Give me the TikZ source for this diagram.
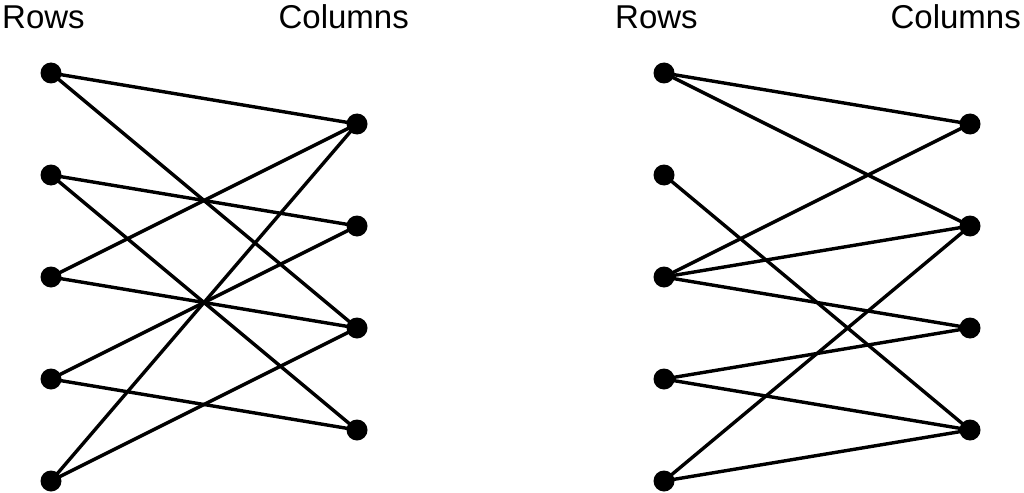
\documentclass[tikz,border=0pt]{standalone}
\usepackage{fontspec}
\setmainfont{Liberation Sans}
\begin{document}
\begin{tikzpicture}[x=1pt,y=-1pt,
  dot/.style={circle,fill=black,inner sep=0pt,minimum size=21pt},
  edge/.style={line width=3.4pt},
  lbl/.style={inner sep=0pt,font=\fontsize{33}{36}\selectfont}]
\useasboundingbox (0,0) rectangle (1024,492);
% left graph
\node[lbl,anchor=base west] (lr) at (2,29) {Rows};
\node[lbl,anchor=base east] (lc) at (409,29) {Columns};
\foreach \i/\y in {1/73,2/175,3/277,4/379,5/481} \node[dot] (a\i) at (51,\y) {};
\foreach \j/\y in {1/124,2/226,3/328,4/430} \node[dot] (b\j) at (357,\y) {};
\foreach \i/\j in {1/1,1/3,2/2,2/4,3/1,3/3,4/2,4/4,5/1,5/3}
  \draw[edge] (a\i.center) -- (b\j.center);
% right graph
\node[lbl,anchor=base west] (rr) at (615,29) {Rows};
\node[lbl,anchor=base east] (rc) at (1021,29) {Columns};
\foreach \i/\y in {1/73,2/175,3/277,4/379,5/481} \node[dot] (c\i) at (664,\y) {};
\foreach \j/\y in {1/124,2/226,3/328,4/430} \node[dot] (d\j) at (970,\y) {};
\foreach \i/\j in {1/1,1/2,2/4,3/1,3/2,3/3,4/3,4/4,5/2,5/4}
  \draw[edge] (c\i.center) -- (d\j.center);
\end{tikzpicture}
\end{document}
